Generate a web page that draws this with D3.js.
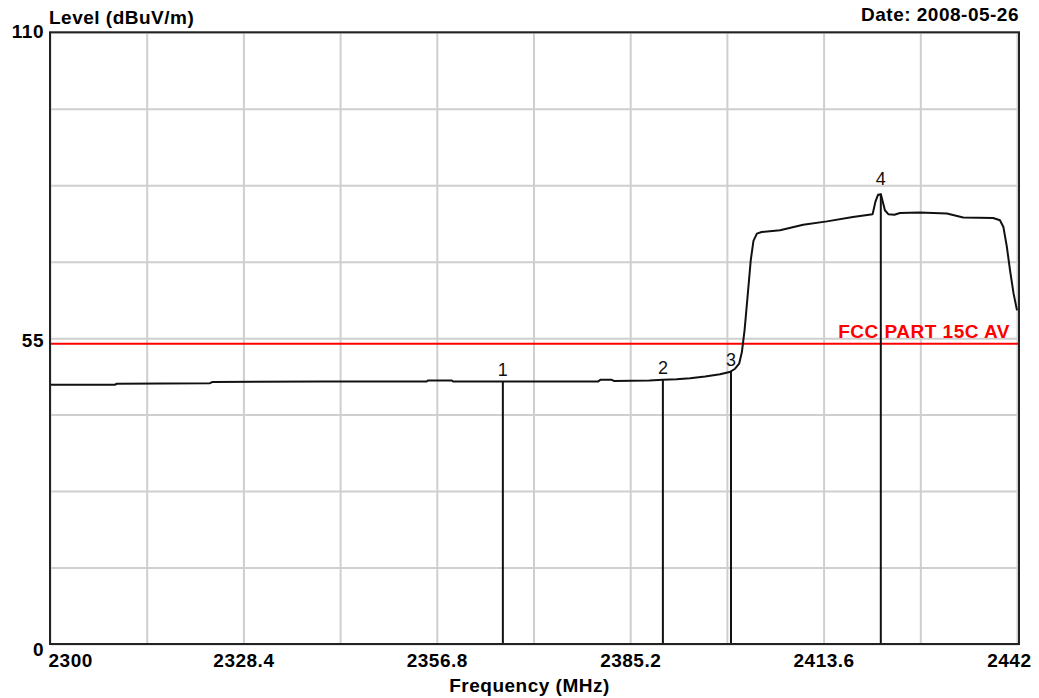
<!DOCTYPE html>
<html>
<head>
<meta charset="utf-8">
<script src="https://cdn.jsdelivr.net/npm/d3@7"></script>
<style>
  html, body { margin: 0; padding: 0; background: #fff; }
  svg { display: block; }
  .lbl { font-family: "Liberation Sans", Arial, sans-serif; font-weight: bold; font-size: 19px; letter-spacing: 0.5px; fill: #000; }
</style>
</head>
<body>
<svg id="chart" width="1039" height="698"></svg>
<script>
// ---- data ----
const traceFreq = [2300, 2309.5, 2309.8, 2323.5, 2323.8, 2340, 2355.3, 2355.5, 2359, 2359.2, 2370, 2380.5, 2380.8, 2382.5, 2382.8, 2388, 2390, 2392, 2394, 2396.2, 2398.4, 2399.8, 2400.6, 2401.2, 2401.6, 2402.0, 2402.4, 2402.9, 2403.3, 2403.8, 2404.5, 2407.2, 2410.6, 2414.1, 2417.9, 2420.8, 2421.2, 2421.6, 2422.0, 2422.3, 2422.6, 2423.1, 2424.0, 2424.8, 2427.7, 2431.7, 2434.1, 2438.5, 2439.5, 2440.0, 2440.5, 2441.0, 2441.5, 2442];
const traceLevel = [46.6, 46.6, 46.8, 46.9, 47.1, 47.2, 47.2, 47.4, 47.4, 47.2, 47.2, 47.2, 47.5, 47.5, 47.3, 47.4, 47.5, 47.6, 47.8, 48.1, 48.5, 48.9, 49.5, 50.4, 52.5, 56.5, 62, 69, 72.5, 73.8, 74.1, 74.4, 75.4, 76.0, 76.8, 77.3, 79.5, 80.8, 80.9, 79.5, 78.0, 77.3, 77.2, 77.5, 77.6, 77.4, 76.7, 76.6, 76.2, 75.0, 71.5, 67, 63, 60];

const markerNames = ["1", "2", "3", "4"];
const markerFreq = [2366.5, 2390, 2400, 2422];
const markerLevel = [47.2, 47.5, 48.9, 80.9];

const limitLevel = 54;
const limitName = "FCC PART 15C AV";

const xGrid = d3.range(0, 11).map(i => +(2300 + i * 14.2).toFixed(1));
const yGrid = d3.range(0, 9).map(i => i * 13.75);
const xTickLabels = [2300, 2328.4, 2356.8, 2385.2, 2413.6, 2442];
const yTickLabels = [0, 55, 110];

const yTitle = "Level (dBuV/m)";
const xTitle = "Frequency (MHz)";
const dateText = "Date: 2008-05-26";

// ---- scales ----
const svg = d3.select("#chart");
const x = d3.scaleLinear().domain([2300, 2442]).range([50, 1017]);
const y = d3.scaleLinear().domain([0, 110]).range([644, 32.3]);
const pL = x(2300), pR = x(2442) + 2, pT = y(110), pB = y(0);

svg.append("rect").attr("width", 1039).attr("height", 698).attr("fill", "#fff");

// gridlines via axes
svg.append("g")
  .attr("transform", `translate(0,${pB})`)
  .call(d3.axisBottom(x).tickValues(xGrid).tickSize(-(pB - pT)).tickFormat(""))
  .call(g => g.select(".domain").remove())
  .call(g => g.selectAll("line").attr("stroke", "#cfcfcf").attr("stroke-width", 2));

svg.append("g")
  .attr("transform", `translate(${pL},0)`)
  .call(d3.axisLeft(y).tickValues(yGrid).tickSize(-(pR - pL)).tickFormat(""))
  .call(g => g.select(".domain").remove())
  .call(g => g.selectAll("line").attr("stroke", "#cfcfcf").attr("stroke-width", 2));

// limit line
svg.append("line")
  .attr("x1", pL).attr("x2", pR - 1)
  .attr("y1", y(limitLevel)).attr("y2", y(limitLevel))
  .attr("stroke", "#ff0000").attr("stroke-width", 2);

svg.append("text").attr("class", "lbl")
  .attr("x", 1010).attr("y", y(limitLevel) - 6)
  .attr("text-anchor", "end").style("fill", "#ff0000")
  .text(limitName);

// markers
markerFreq.forEach((f, i) => {
  svg.append("line")
    .attr("x1", x(f)).attr("x2", x(f))
    .attr("y1", y(markerLevel[i])).attr("y2", pB)
    .attr("stroke", "#111").attr("stroke-width", 2);
  svg.append("text")
    .attr("x", x(f)).attr("y", y(markerLevel[i]) - (i === 3 ? 9 : 6))
    .attr("text-anchor", "middle")
    .style("font-family", "'Liberation Sans', Arial, sans-serif")
    .style("font-size", "18px").style("fill", "#111")
    .text(markerNames[i]);
});

// trace
const line = d3.line().x(d => x(d[0])).y(d => y(d[1]));
svg.append("path")
  .datum(traceFreq.map((f, i) => [f, traceLevel[i]]))
  .attr("d", line)
  .attr("fill", "none").attr("stroke", "#111").attr("stroke-width", 2)
  .attr("stroke-linejoin", "round");

// frame
svg.append("rect")
  .attr("x", pL).attr("y", pT).attr("width", pR - pL).attr("height", pB - pT)
  .attr("fill", "none").attr("stroke", "#222").attr("stroke-width", 2);

// x tick labels
const xa = svg.append("g")
  .attr("transform", `translate(0,${pB})`)
  .call(d3.axisBottom(x).tickValues(xTickLabels).tickSize(0).tickPadding(0).tickFormat(d => String(d)))
  .call(g => g.select(".domain").remove());
xa.selectAll("text").attr("class", "lbl").attr("dy", null).attr("y", 23)
  .attr("text-anchor", (d, i) => i === 0 ? "start" : (i === xTickLabels.length - 1 ? "end" : "middle"))
  .attr("dx", (d, i) => i === 0 ? -2 : (i === xTickLabels.length - 1 ? 14 : 0));

// y tick labels
const ya = svg.append("g")
  .attr("transform", `translate(${pL},0)`)
  .call(d3.axisLeft(y).tickValues(yTickLabels).tickSize(0).tickPadding(0).tickFormat(d => String(d)))
  .call(g => g.select(".domain").remove());
ya.selectAll("text").attr("class", "lbl").attr("text-anchor", "end")
  .attr("x", -6).attr("dy", d => 5 + 6 * (1 - d / 110));

// titles
svg.append("text").attr("class", "lbl").attr("x", pL - 1).attr("y", 24).text(yTitle);
svg.append("text").attr("class", "lbl").attr("x", pR).attr("y", 21).attr("text-anchor", "end").text(dateText);
svg.append("text").attr("class", "lbl").attr("x", (x(2356.8) + x(2385.2)) / 2 - 4).attr("y", 692).attr("text-anchor", "middle").text(xTitle);
</script>
</body>
</html>
